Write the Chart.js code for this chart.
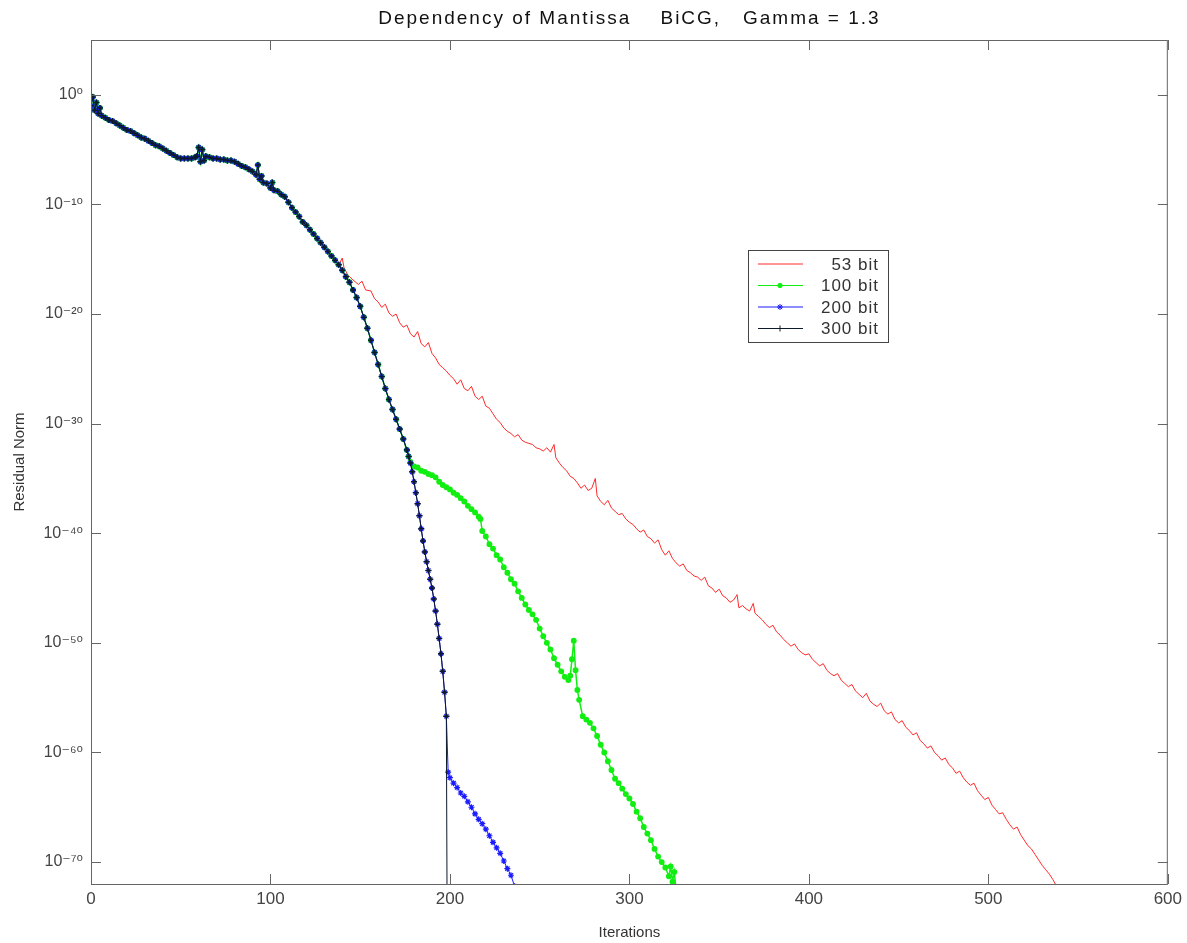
<!DOCTYPE html>
<html>
<head>
<meta charset="utf-8">
<title>Dependency of Mantissa</title>
<script src="https://cdn.jsdelivr.net/npm/chart.js@4.4.0/dist/chart.umd.min.js"></script>
<style>
  html, body { margin: 0; padding: 0; background: #fff; }
  #wrap { width: 1187px; height: 943px; }
</style>
</head>
<body>
<div id="wrap"><canvas id="residualChart" width="1187" height="943"></canvas></div>
<script>
// data: [iteration, log10(residual norm)]
// first part, identical for every mantissa length
const early = [
  [0,-1.0],[1,-0.2],[2,-1.4],[3,-0.7],[4,-1.7],[5,-1.2],[6,-1.9],[8,-2.1],[10,-2.3],[12,-2.4],
  [14,-2.6],[16,-2.8],[18,-3.0],[20,-3.2],[22,-3.3],[24,-3.5],[26,-3.7],[28,-3.9],[30,-4.0],
  [32,-4.2],[34,-4.4],[36,-4.6],[38,-4.7],[40,-4.9],[42,-5.1],[44,-5.3],[46,-5.5],[48,-5.7],
  [50,-5.8],[52,-5.8],[54,-5.8],[56,-5.8],[58,-5.7],[59,-5.6],[60,-4.8],[61,-6.1],[62,-5.0],
  [63,-6.0],[64,-5.6],[66,-5.7],[68,-5.8],[70,-5.8],[72,-5.9],[74,-5.9],[76,-6.0],[78,-6.0],
  [80,-6.1],[82,-6.3],[84,-6.5],[86,-6.6],[88,-6.8],[90,-7.0],[92,-7.3],[93,-6.4],[94,-7.7],
  [95,-7.4],[96,-8.0],[98,-8.1],[100,-8.5],[101,-8.0],[102,-8.7],[104,-8.8],[106,-9.1],
  [108,-9.3],[110,-9.8],[112,-10.3],[114,-10.7],[116,-11.1],[118,-11.6],[120,-11.9],[122,-12.3],
  [124,-12.7],[126,-13.1],[128,-13.5],[130,-13.9],[132,-14.3],[134,-14.7],[136,-15.1],[138,-15.5]
];
// steep part shared by 200 bit and 300 bit (100 bit follows it up to iteration 177)
const steep = [
  [140,-16.0],[142,-16.6],[144,-17.1],[146,-17.8],[148,-18.5],[150,-19.3],[152,-20.3],[154,-21.3],
  [156,-22.4],[158,-23.5],[160,-24.6],[162,-25.7],[164,-26.8],[166,-27.8],[168,-28.7],[170,-29.6],
  [172,-30.5],[174,-31.4],[176,-32.4],[177,-33.0],[178,-33.6],[179,-34.4],[180,-35.3],[181,-36.3],
  [182,-37.3],[183,-38.4],[184,-39.6],[185,-40.7],[186,-41.7],[187,-42.6],[188,-43.4],[189,-44.2],
  [190,-45.0],[191,-46.0],[192,-47.1],[193,-48.3],[194,-49.6],[195,-51.0],[196,-52.6],[197,-54.5],
  [198,-56.7]
];
const tail53 = [
  [140,-14.9],[141,-15.8],[143,-16.4],[146,-16.9],[149,-17.3],[151,-17.0],[153,-17.8],[156,-17.9],
  [158,-18.6],[160,-18.9],[162,-19.4],[164,-19.1],[166,-19.9],[168,-20.2],[170,-20.0],[172,-20.8],
  [174,-21.2],[176,-21.0],[178,-21.8],[180,-22.1],[182,-21.6],[184,-22.7],[186,-23.0],[188,-22.6],
  [190,-23.6],[192,-24.0],[194,-24.6],[196,-24.9],[198,-25.2],[200,-25.6],[202,-25.9],[204,-26.4],
  [206,-26.0],[208,-26.8],[210,-27.0],[212,-26.6],[214,-27.5],[216,-27.8],[218,-27.5],[220,-28.4],
  [222,-28.6],[224,-29.1],[226,-29.6],[228,-29.9],[230,-30.4],[232,-30.7],[234,-30.9],[236,-31.2],
  [238,-31.0],[240,-31.5],[242,-31.7],[244,-31.8],[246,-31.9],[248,-32.2],[250,-32.3],[252,-32.5],
  [254,-32.2],[256,-32.6],[258,-31.9],[259,-33.1],[261,-33.6],[263,-34.0],[265,-34.3],[267,-34.8],
  [269,-35.0],[271,-35.4],[273,-35.9],[275,-35.6],[277,-36.1],[279,-35.9],[281,-35.0],[282,-36.6],
  [284,-37.1],[286,-37.4],[288,-37.0],[290,-37.7],[292,-38.0],[294,-38.3],[296,-38.2],[298,-38.7],
  [300,-39.0],[302,-39.2],[304,-39.6],[306,-39.9],[308,-39.7],[310,-40.3],[312,-40.5],[314,-40.9],
  [316,-40.6],[318,-41.5],[320,-42.0],[322,-41.6],[324,-42.3],[326,-42.7],[328,-43.0],[330,-42.8],
  [332,-43.4],[334,-43.6],[336,-43.9],[338,-44.0],[340,-44.3],[342,-44.0],[344,-44.8],[346,-45.0],
  [348,-45.4],[350,-45.1],[352,-45.7],[354,-45.9],[356,-46.3],[358,-46.1],[360,-45.6],[361,-46.8],
  [363,-46.6],[365,-46.9],[367,-47.1],[369,-46.4],[370,-47.3],[372,-47.6],[374,-47.9],[376,-48.3],
  [378,-48.6],[380,-48.4],[382,-49.0],[384,-49.3],[386,-49.7],[388,-50.0],[390,-50.3],[392,-50.1],
  [394,-50.6],[396,-50.9],[398,-51.1],[400,-51.0],[402,-51.5],[404,-51.8],[406,-52.1],[408,-51.9],
  [410,-52.5],[412,-52.8],[414,-53.0],[416,-52.8],[418,-53.4],[420,-53.7],[422,-54.0],[424,-53.8],
  [426,-54.4],[428,-54.7],[430,-55.0],[432,-54.6],[434,-55.3],[436,-55.6],[438,-55.8],[440,-55.5],
  [442,-56.2],[444,-56.5],[446,-56.3],[448,-57.0],[450,-57.3],[452,-57.1],[454,-57.7],[456,-58.0],
  [458,-58.4],[460,-58.2],[462,-58.9],[464,-59.2],[466,-59.6],[468,-59.4],[470,-60.0],[472,-60.3],
  [474,-60.7],[476,-60.5],[478,-61.1],[480,-61.4],[482,-61.9],[484,-61.7],[486,-62.3],[488,-62.7],
  [490,-63.0],[492,-62.8],[494,-63.5],[496,-63.9],[498,-64.3],[500,-64.1],[502,-64.8],[504,-65.2],
  [506,-65.6],[508,-65.5],[510,-66.1],[512,-66.6],[514,-67.0],[516,-66.8],[518,-67.5],[520,-68.0],
  [522,-68.5],[524,-68.8],[526,-69.3],[528,-69.8],[530,-70.3],[532,-70.7],[534,-71.1],[536,-71.6],
  [538,-72.2]
];
const tail100 = [
  [178,-33.5],[180,-33.9],[182,-34.0],[184,-34.3],[186,-34.4],[188,-34.6],[190,-34.7],[192,-34.9],
  [194,-35.3],[196,-35.6],[198,-35.8],[200,-36.0],[202,-36.3],[204,-36.5],[206,-36.8],[208,-37.1],
  [210,-37.5],[212,-37.8],[214,-38.1],[216,-38.5],[217,-38.7],[218,-39.8],[220,-40.3],[222,-41.0],
  [224,-41.4],[226,-42.0],[228,-42.4],[230,-43.1],[232,-43.6],[234,-44.2],[236,-44.6],[238,-45.3],
  [240,-45.9],[242,-46.5],[244,-47.0],[246,-47.4],[248,-47.9],[250,-48.7],[252,-49.4],[254,-50.0],
  [256,-50.6],[258,-51.4],[260,-52.0],[262,-52.6],[264,-53.1],[266,-53.4],[267,-53.0],[268,-51.5],
  [269,-49.8],[270,-52.5],[271,-54.3],[272,-55.2],[274,-56.7],[276,-57.0],[278,-57.3],[280,-57.8],
  [282,-58.5],[284,-59.3],[286,-60.0],[288,-60.8],[290,-61.6],[292,-62.4],[294,-62.8],[296,-63.3],
  [298,-63.8],[300,-64.2],[302,-64.7],[304,-65.4],[306,-66.0],[308,-66.8],[310,-67.4],[312,-68.0],
  [314,-68.8],[316,-69.5],[318,-70.0],[320,-70.5],[322,-71.3],[323,-70.4],[324,-71.8],[325,-70.9],
  [326,-72.5]
];
const tail200 = [
  [199,-61.8],[200,-62.3],[202,-62.8],[204,-63.2],[206,-63.7],[208,-64.0],[210,-64.5],[212,-65.0],
  [214,-65.6],[216,-66.1],[218,-66.5],[220,-67.0],[222,-67.6],[224,-68.2],[226,-68.7],[228,-69.2],
  [230,-69.9],[232,-70.6],[234,-71.2],[236,-72.2]
];
// 300 bit drops out of range after iteration 198
const tail300 = [[199,-100]];

const seriesLabels = ['53 bit', '100 bit', '200 bit', '300 bit'];
const xTicks = [0, 100, 200, 300, 400, 500, 600];
const yTickExps = [0, -10, -20, -30, -40, -50, -60, -70];

const sup = { '0':'⁰','1':'¹','2':'²','3':'³','4':'⁴','5':'⁵','6':'⁶','7':'⁷','8':'⁸','9':'⁹','-':'⁻' };
const fontFamily = "'Liberation Sans', Arial, 'DejaVu Sans', sans-serif";

function toPoints(pairs) {
  return pairs.map(p => ({ x: p[0], y: Math.pow(10, p[1]) }));
}

const data53 = toPoints(early.concat(tail53));
const data100 = toPoints(early.concat(steep.filter(p => p[0] <= 177), tail100));
const data200 = toPoints(early.concat(steep, tail200));
const data300 = toPoints(early.concat(steep, tail300));

// frame, inside ticks, title and legend (MATLAB look)
const matlabPlugin = {
  id: 'matlabLook',
  afterDatasetsDraw(chart) {
    const { ctx, chartArea: a, scales } = chart;
    const x = scales.x, y = scales.y;
    ctx.save();
    ctx.strokeStyle = '#666';
    ctx.lineWidth = 1;
    ctx.strokeRect(a.left + 0.5, a.top + 0.5, a.right - a.left - 1, a.bottom - a.top);
    ctx.beginPath();
    xTicks.forEach(v => {
      const px = Math.round(x.getPixelForValue(v)) + 0.5;
      ctx.moveTo(px, a.bottom); ctx.lineTo(px, a.bottom - 10);
      ctx.moveTo(px, a.top); ctx.lineTo(px, a.top + 10);
    });
    yTickExps.forEach(e => {
      const py = Math.round(y.getPixelForValue(Math.pow(10, e))) + 0.5;
      ctx.moveTo(a.left, py); ctx.lineTo(a.left + 10, py);
      ctx.moveTo(a.right, py); ctx.lineTo(a.right - 10, py);
    });
    ctx.stroke();

    // title
    ctx.fillStyle = '#111';
    ctx.font = '19px ' + fontFamily;
    ctx.letterSpacing = '2px';
    ctx.textAlign = 'center';
    ctx.textBaseline = 'middle';
    ctx.fillText('Dependency of Mantissa    BiCG,   Gamma = 1.3', (a.left + a.right) / 2, 19);

    // legend box
    const lx = 748, ly = 250, lw = 140, lh = 92;
    ctx.fillStyle = '#fff';
    ctx.fillRect(lx, ly, lw, lh);
    ctx.strokeStyle = '#444';
    ctx.strokeRect(lx + 0.5, ly + 0.5, lw, lh);
    ctx.font = '17px ' + fontFamily;
    ctx.letterSpacing = '1px';
    ctx.textAlign = 'right';
    chart.data.datasets.forEach((ds, i) => {
      const rowY = ly + 14 + i * 21.5;
      ctx.strokeStyle = ds.borderColor;
      ctx.lineWidth = 1;
      ctx.beginPath();
      ctx.moveTo(lx + 10, rowY); ctx.lineTo(lx + 55, rowY);
      ctx.stroke();
      if (ds.pointRadius > 0 && Chart.helpers && Chart.helpers.drawPoint) {
        ctx.fillStyle = ds.pointBackgroundColor;
        ctx.strokeStyle = ds.pointBorderColor;
        Chart.helpers.drawPoint(ctx, { pointStyle: ds.pointStyle, radius: ds.pointRadius, rotation: 0, borderWidth: 1 }, lx + 32, rowY);
      }
      ctx.fillStyle = '#333';
      ctx.fillText(ds.label, lx + 131, rowY + 1);
    });
    ctx.letterSpacing = '0px';
    ctx.restore();
  }
};

new Chart(document.getElementById('residualChart'), {
  type: 'line',
  data: {
    datasets: [
      {
        label: seriesLabels[0], data: data53, order: 4,
        borderColor: '#ff2a2a', borderWidth: 1, pointRadius: 0, tension: 0
      },
      {
        label: seriesLabels[1], data: data100, order: 3,
        borderColor: '#11ee11', borderWidth: 1.5, pointStyle: 'circle', pointRadius: 2.2,
        pointBackgroundColor: '#11ee11', pointBorderColor: '#11ee11', tension: 0
      },
      {
        label: seriesLabels[2], data: data200, order: 2,
        borderColor: '#1a1aff', borderWidth: 1, pointStyle: 'star', pointRadius: 3,
        pointBackgroundColor: '#1a1aff', pointBorderColor: '#1a1aff', pointBorderWidth: 1.2, tension: 0
      },
      {
        label: seriesLabels[3], data: data300, order: 1,
        borderColor: '#0d1a2a', borderWidth: 1, pointStyle: 'cross', pointRadius: 3,
        pointBackgroundColor: '#0d1a2a', pointBorderColor: '#0d1a2a', pointBorderWidth: 1.5, tension: 0
      }
    ]
  },
  options: {
    responsive: false,
    animation: false,
    events: [],
    layout: { padding: { top: 40, right: 18, left: 0, bottom: 0 } },
    plugins: {
      legend: { display: false },
      title: { display: false },
      tooltip: { enabled: false }
    },
    scales: {
      x: {
        type: 'linear',
        min: 0, max: 600,
        grid: { display: false, drawTicks: false },
        border: { display: false },
        afterBuildTicks: (scale) => { scale.ticks = xTicks.map(v => ({ value: v })); },
        afterFit: (scale) => { scale.height = 59; },
        ticks: { color: '#444', font: { family: fontFamily, size: 17 }, padding: 5, autoSkip: false, maxRotation: 0 },
        title: { display: true, text: 'Iterations', color: '#333', font: { family: fontFamily, size: 15 }, padding: { top: 0, bottom: 1 } }
      },
      y: {
        type: 'logarithmic',
        min: 1e-72, max: 1e5,
        grid: { display: false, drawTicks: false },
        border: { display: false },
        afterBuildTicks: (scale) => { scale.ticks = yTickExps.map(e => ({ value: Math.pow(10, e) })); },
        afterFit: (scale) => { scale.width = 91; },
        ticks: {
          color: '#444', font: { family: fontFamily, size: 16 }, padding: 8, autoSkip: false,
          callback: (value) => {
            const e = String(Math.round(Math.log10(value)));
            return '10' + e.split('').map(c => sup[c]).join('');
          }
        },
        title: { display: true, text: 'Residual Norm', color: '#333', font: { family: fontFamily, size: 15 }, padding: { top: 11, bottom: 0 } }
      }
    }
  },
  plugins: [matlabPlugin]
});
</script>
</body>
</html>
